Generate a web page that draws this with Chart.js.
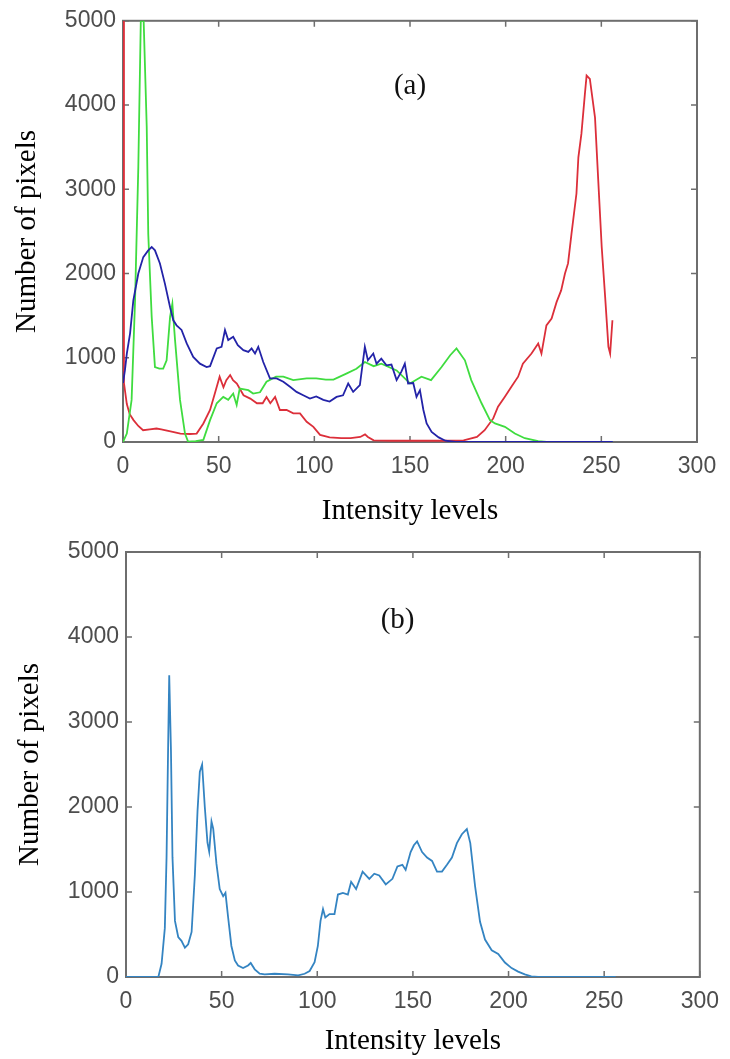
<!DOCTYPE html>
<html lang="en">
<head>
<meta charset="UTF-8">
<title>Intensity histograms</title>
<script src="https://cdn.jsdelivr.net/npm/chart.js@4.4.0/dist/chart.umd.min.js"></script>
<style>
  body { margin: 0; background: #fff; }
  .wrap { position: relative; width: 730px; height: 1059px; }
  canvas { position: absolute; left: 0; }
  #chartA { top: 0; }
  #chartB { top: 530px; }
</style>
</head>
<body>
<div class="wrap">
  <canvas id="chartA" width="730" height="530"></canvas>
  <canvas id="chartB" width="730" height="529"></canvas>
</div>
<script>
// tick labels shared by both panels
const xTicks = [0, 50, 100, 150, 200, 250, 300];
const yTicks = [0, 1000, 2000, 3000, 4000, 5000];

// (a) red channel histogram
const redX = [
  0, 0.5, 2, 3.5, 5.5, 8, 10.5, 14, 17.5, 20,
  23, 26, 30, 35, 38.5, 42, 45.5, 48, 50.5, 52.5,
  54, 56, 57.5, 59.5, 63, 66.5, 70, 73, 75, 77,
  79.5, 82, 85.5, 89, 92.5, 96, 99.5, 103, 108, 114,
  119, 124, 126.5, 128, 131, 140, 150, 160, 170, 178,
  185, 189, 193.5, 196, 199.5, 203, 206.5, 209, 213.5, 217,
  218.7, 221.3, 224, 226.6, 229, 231, 232.6, 234.4, 237, 238,
  239.6, 241.4, 242.3, 244, 246.7, 248.4, 250.2, 252, 253.7, 254.6,
  255.8
];
const redY = [
  5000, 700, 450, 330, 260, 190, 140, 150, 160, 150,
  135, 120, 100, 95, 100, 220, 380, 575, 775, 650,
  735, 795, 735, 695, 555, 515, 460, 460, 535, 460,
  535, 380, 380, 340, 340, 240, 180, 85, 55, 45,
  45, 60, 90, 60, 20, 15, 15, 15, 15, 20,
  60, 140, 280, 420, 535, 655, 775, 930, 1050, 1170,
  1050, 1385, 1465, 1660, 1800, 2000, 2120, 2470, 2950, 3380,
  3660, 4130, 4350, 4310, 3850, 3100, 2315, 1720, 1130, 1050,
  1445
];

// (a) green channel histogram
const greenX = [
  0, 2, 4.5, 6.3, 8, 9.3, 10.8, 12.4, 13.2, 15,
  16.7, 19, 21, 22.8, 24.6, 25.8, 27.2, 29.8, 32.4, 34,
  38, 42, 45.5, 49, 52.4, 55, 57.6, 59.4, 61, 65.5,
  68, 71.6, 75, 80, 83.8, 89, 96, 101, 106, 110,
  117, 122, 126.4, 131, 135, 143, 150, 156, 161, 166.5,
  171, 174.3, 178.7, 182, 187.4, 191.8, 194.4, 199.6, 204.8, 210,
  217, 221.4, 256
];
const greenY = [
  0, 100, 500, 1680, 3260, 5000, 5000, 3740, 2470, 1485,
  890, 870, 870, 970, 1485, 1640, 1210, 500, 100, 5,
  10, 25, 260, 460, 535, 500, 575, 440, 635, 615,
  575, 590, 715, 775, 775, 735, 755, 755, 740, 740,
  815, 870, 950, 900, 930, 850, 695, 775, 735, 890,
  1030, 1110, 970, 735, 460, 260, 220, 180, 100, 45,
  10, 0, 0
];

// (a) blue channel histogram
const blueX = [
  0, 1, 2, 3.7, 5.4, 8, 10.6, 13.2, 15, 16.7,
  19.3, 21.9, 24.6, 26.3, 28, 30.6, 33.3, 36.7, 40.2, 43.7,
  45.5, 49, 51.5, 53.3, 55, 57.6, 60, 62.9, 65.5, 67.2,
  69, 70.7, 73.3, 76.8, 80.3, 83.8, 87.3, 90.7, 94.2, 97.7,
  101, 104.7, 108, 111.6, 115, 117.7, 120.3, 123.8, 126.4, 128,
  130.8, 132.5, 135, 137.7, 140.3, 143, 145.5, 147.3, 149, 151.7,
  153.4, 155.2, 157, 158.7, 161.3, 165, 168.5, 173.8, 256
];
const blueY = [
  700, 850, 1050, 1290, 1680, 2000, 2195, 2275, 2315, 2275,
  2120, 1880, 1600, 1445, 1385, 1330, 1170, 1010, 930, 890,
  900, 1110, 1130, 1330, 1210, 1250, 1150, 1090, 1070, 1110,
  1050, 1130, 950, 755, 755, 715, 655, 595, 555, 515,
  540, 500, 480, 535, 555, 695, 595, 675, 1130, 970,
  1050, 930, 990, 910, 920, 735, 835, 930, 695, 700,
  535, 615, 380, 220, 120, 55, 15, 0, 0
];

// (b) enhanced image histogram
const histX = [
  0, 16.9, 18.6, 20.3, 21.2, 22, 22.6, 23.5, 24.3, 25.6,
  27.3, 29, 30.8, 32.5, 34.3, 36, 37.4, 38.6, 39.8, 41.2,
  42.6, 43.5, 44.7, 45.6, 47.3, 49, 50.8, 52, 53.4, 55.1,
  56.9, 58.6, 61.2, 63.8, 65.2, 67.3, 69.9, 72.5, 77.7, 84.7,
  90, 93.4, 96, 98.6, 100.3, 101.7, 103, 104.2, 106.4, 109,
  110.8, 113.4, 116, 117.7, 120.3, 123.7, 127.2, 129.8, 132.4, 135.8,
  139.3, 141.9, 144.5, 146.2, 148.8, 150.5, 152.2, 154.8, 157.4, 160,
  162.6, 165.2, 167.8, 170.4, 173, 175.6, 178.2, 180, 182.5, 185.1,
  187.7, 191.2, 194.6, 198.1, 201.6, 205, 208.5, 211.9, 215.4, 256
];
const histY = [
  0, 0, 155, 575, 1410, 2670, 3550, 2670, 1410, 660,
  470, 425, 345, 385, 530, 1200, 1955, 2415, 2500, 2000,
  1580, 1475, 1830, 1745, 1330, 1035, 950, 990, 700, 365,
  195, 135, 105, 135, 165, 90, 40, 30, 38, 30,
  20, 38, 70, 175, 365, 660, 800, 700, 740, 740,
  970, 990, 970, 1120, 1035, 1240, 1155, 1215, 1195, 1090,
  1155, 1300, 1320, 1260, 1470, 1550, 1595, 1470, 1405, 1365,
  1240, 1240, 1320, 1405, 1575, 1680, 1740, 1575, 1070, 650,
  440, 315, 270, 170, 105, 63, 30, 8, 0, 0
];

const pts = (xs, ys) => xs.map((x, i) => ({ x: x, y: ys[i] }));

Chart.defaults.font.family = '"Liberation Sans", Arial, sans-serif';

// matlab-like box with inward ticks on all sides, plus the panel letter
const frame = {
  id: 'frame',
  beforeDatasetsDraw(chart) {
    const { ctx, chartArea: a, scales: { x, y } } = chart;
    ctx.save();
    ctx.strokeStyle = '#6e6e6e';
    ctx.lineWidth = 2;
    ctx.strokeRect(a.left, a.top, a.width, a.height);
    ctx.lineWidth = 1.5;
    ctx.beginPath();
    x.ticks.forEach(t => {
      const px = x.getPixelForValue(t.value);
      ctx.moveTo(px, a.bottom); ctx.lineTo(px, a.bottom - 6);
      ctx.moveTo(px, a.top); ctx.lineTo(px, a.top + 6);
    });
    y.ticks.forEach(t => {
      const py = y.getPixelForValue(t.value);
      ctx.moveTo(a.left, py); ctx.lineTo(a.left + 6, py);
      ctx.moveTo(a.right, py); ctx.lineTo(a.right - 6, py);
    });
    ctx.stroke();
    ctx.restore();
  },
  afterDatasetsDraw(chart, args, opts) {
    if (!opts.text) return;
    const { ctx, scales: { x, y } } = chart;
    ctx.save();
    ctx.font = '29px "Liberation Serif"';
    ctx.fillStyle = '#111';
    ctx.textAlign = 'center';
    ctx.textBaseline = 'middle';
    ctx.fillText(opts.text, x.getPixelForValue(opts.x), y.getPixelForValue(opts.y));
    ctx.restore();
  }
};

function buildOptions(box, panel) {
  return {
    responsive: false,
    animation: false,
    layout: { padding: { top: box.top, right: box.right, left: 0, bottom: 0 } },
    plugins: {
      legend: { display: false },
      tooltip: { enabled: false },
      frame: panel
    },
    scales: {
      x: {
        type: 'linear', min: 0, max: 300,
        afterBuildTicks: s => { s.ticks = xTicks.map(v => ({ value: v })); },
        afterFit: s => { s.height = box.xHeight; },
        grid: { display: false, drawTicks: false },
        border: { display: false },
        ticks: {
          padding: 11, color: '#4d4d4d', font: { size: 23 },
          maxRotation: 0, autoSkip: false, callback: v => String(v)
        },
        title: {
          display: true, text: 'Intensity levels', color: '#000',
          font: { family: '"Liberation Serif", "Times New Roman", serif', size: 29 },
          padding: { top: 0, bottom: box.xTitlePad }
        }
      },
      y: {
        type: 'linear', min: 0, max: 5000,
        afterBuildTicks: s => { s.ticks = yTicks.map(v => ({ value: v })); },
        afterFit: s => { s.width = box.left; },
        grid: { display: false, drawTicks: false },
        border: { display: false },
        ticks: { padding: 7, color: '#4d4d4d', font: { size: 23 }, callback: v => String(v) },
        title: {
          display: true, text: 'Number of pixels', color: '#000',
          font: { family: '"Liberation Serif", "Times New Roman", serif', size: 29 },
          padding: { top: box.yTitlePad, bottom: 0 }
        }
      }
    }
  };
}

const lineStyle = { pointRadius: 0, borderWidth: 1.8, tension: 0, fill: false };

new Chart(document.getElementById('chartA'), {
  type: 'line',
  data: {
    datasets: [
      Object.assign({ label: 'Blue', data: pts(blueX, blueY), borderColor: '#2323a8' }, lineStyle),
      Object.assign({ label: 'Green', data: pts(greenX, greenY), borderColor: '#3fdc3f' }, lineStyle),
      Object.assign({ label: 'Red', data: pts(redX, redY), borderColor: '#dc2f3a' }, lineStyle)
    ]
  },
  options: buildOptions(
    { top: 20, right: 33, left: 123, xHeight: 88, xTitlePad: 1, yTitlePad: 10 },
    { text: '(a)', x: 150, y: 4220 }
  ),
  plugins: [frame]
});

new Chart(document.getElementById('chartB'), {
  type: 'line',
  data: {
    datasets: [
      Object.assign({ label: 'Histogram', data: pts(histX, histY), borderColor: '#3484c2' }, lineStyle)
    ]
  },
  options: buildOptions(
    { top: 22, right: 25, left: 126, xHeight: 82, xTitlePad: 0, yTitlePad: 13 },
    { text: '(b)', x: 142, y: 4200 }
  ),
  plugins: [frame]
});
</script>
</body>
</html>
